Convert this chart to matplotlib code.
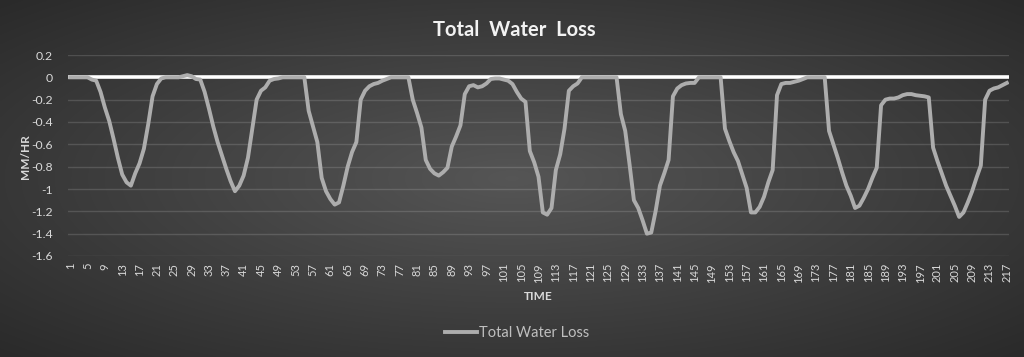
import numpy as np
import matplotlib
matplotlib.use('Agg')
import matplotlib.pyplot as plt

# hourly water loss (mm/hr), time steps 1..217
water_loss = [
    0, 0, 0, 0, 0, -0.02, -0.03, -0.13, -0.27, -0.39,
    -0.55, -0.72, -0.87, -0.94, -0.97, -0.86, -0.77, -0.64, -0.42, -0.17,
    -0.06, -0.01, 0, 0, 0, 0, 0.01, 0.02, 0.01, -0.015,
    -0.02, -0.13, -0.28, -0.44, -0.58, -0.70, -0.82, -0.93, -1.02, -0.97,
    -0.88, -0.72, -0.46, -0.20, -0.12, -0.09, -0.03, -0.015, -0.01, 0,
    0, 0, 0, 0, 0, -0.30, -0.44, -0.58, -0.90, -1.02,
    -1.09, -1.14, -1.12, -0.97, -0.80, -0.67, -0.58, -0.20, -0.12, -0.08,
    -0.06, -0.05, -0.03, -0.015, 0, 0, 0, 0, 0, -0.20,
    -0.32, -0.45, -0.74, -0.82, -0.86, -0.88, -0.85, -0.81, -0.62, -0.53,
    -0.43, -0.15, -0.08, -0.07, -0.09, -0.08, -0.055, -0.015, -0.01, -0.01,
    -0.02, -0.03, -0.06, -0.13, -0.19, -0.22, -0.66, -0.76, -0.89, -1.21,
    -1.23, -1.17, -0.83, -0.69, -0.46, -0.12, -0.08, -0.055, 0, 0,
    0, 0, 0, 0, 0, 0, 0, -0.33, -0.48, -0.78,
    -1.10, -1.17, -1.28, -1.40, -1.39, -1.20, -0.97, -0.86, -0.74, -0.17,
    -0.10, -0.07, -0.055, -0.05, -0.05, 0, 0, 0, 0, 0,
    0, -0.46, -0.57, -0.67, -0.75, -0.87, -0.99, -1.21, -1.21, -1.16,
    -1.07, -0.94, -0.83, -0.16, -0.06, -0.05, -0.05, -0.04, -0.03, -0.015,
    0, 0, 0, 0, 0, -0.48, -0.60, -0.72, -0.85, -0.97,
    -1.06, -1.17, -1.15, -1.08, -1.00, -0.90, -0.81, -0.25, -0.20, -0.19,
    -0.19, -0.18, -0.16, -0.15, -0.15, -0.16, -0.165, -0.17, -0.18, -0.63,
    -0.75, -0.86, -0.97, -1.06, -1.15, -1.25, -1.21, -1.12, -1.02, -0.90,
    -0.79, -0.20, -0.12, -0.10, -0.09, -0.07, -0.05,
]
time_steps = list(range(1, len(water_loss) + 1))
x_tick_labels = [str(t) for t in time_steps[::4]]
y_ticks = [0.2, 0, -0.2, -0.4, -0.6, -0.8, -1, -1.2, -1.4, -1.6]

FONT = 'Lato'
TXT = '#d9d9d9'


def background(fig):
    bg = fig.add_axes([0, 0, 1, 1], zorder=-10)
    xx, yy = np.meshgrid(np.linspace(-1, 1, 512), np.linspace(-1, 1, 200))
    r = np.sqrt(xx ** 2 + yy ** 2) / np.sqrt(2)
    shade = 0.335 - 0.17 * r
    img = np.dstack([shade, shade, shade])
    bg.imshow(img, aspect='auto', extent=[0, 1, 0, 1], interpolation='bilinear')
    bg.set_axis_off()


def line_chart():
    fig = plt.figure(figsize=(10.24, 3.57), dpi=100)
    background(fig)
    ax = fig.add_axes([68 / 1024, 1 - 256 / 357, (1009 - 68) / 1024, (256 - 55) / 357])
    ax.set_facecolor('none')

    for y in y_ticks:
        if y != 0:
            ax.axhline(y, color='#ffffff', alpha=0.14, lw=1, zorder=1)
    ax.axhline(0, color='white', lw=2.6, zorder=2)

    ax.plot(time_steps, water_loss, color='#adadad', lw=2.8, zorder=3,
            solid_joinstyle='round', label='Total Water Loss')

    ax.set_xlim(0.5, len(water_loss) + 0.5)
    ax.set_ylim(-1.6, 0.2)
    ax.set_yticks(y_ticks)
    ax.set_yticklabels(['0.2', '0', '-0.2', '-0.4', '-0.6', '-0.8', '-1', '-1.2', '-1.4', '-1.6'],
                       fontfamily=FONT, fontsize=8.8, color=TXT)
    ax.set_xticks(time_steps[::4])
    ax.set_xticklabels(x_tick_labels, rotation=90, fontfamily=FONT, fontsize=8, color=TXT)
    ax.tick_params(axis='both', length=0)
    ax.tick_params(axis='y', pad=11)
    ax.tick_params(axis='x', pad=5)
    for s in ax.spines.values():
        s.set_visible(False)

    fig.text(0.502, 1 - 30 / 357, 'Total  Water  Loss', ha='center', va='center',
             fontfamily=FONT, fontweight='bold', fontsize=14.5, color='#f2f2f2')
    fig.text(26 / 1024, 1 - 157 / 357, 'MM/HR', rotation=90, ha='center', va='center',
             fontfamily=FONT, fontweight='bold', fontsize=8.5, color=TXT)
    fig.text(538 / 1024, 1 - 296 / 357, 'TIME', ha='center', va='center',
             fontfamily=FONT, fontweight='bold', fontsize=8.5, color=TXT)

    leg = fig.legend(loc='center', bbox_to_anchor=(517 / 1024, 1 - 333 / 357),
                     frameon=False, handlelength=2.2, handletextpad=0.1,
                     prop={'family': FONT, 'size': 10.5})
    for t in leg.get_texts():
        t.set_color('#bfbfbf')

    fig.savefig('out.png', dpi=100)


def main():
    line_chart()


if __name__ == '__main__':
    main()
